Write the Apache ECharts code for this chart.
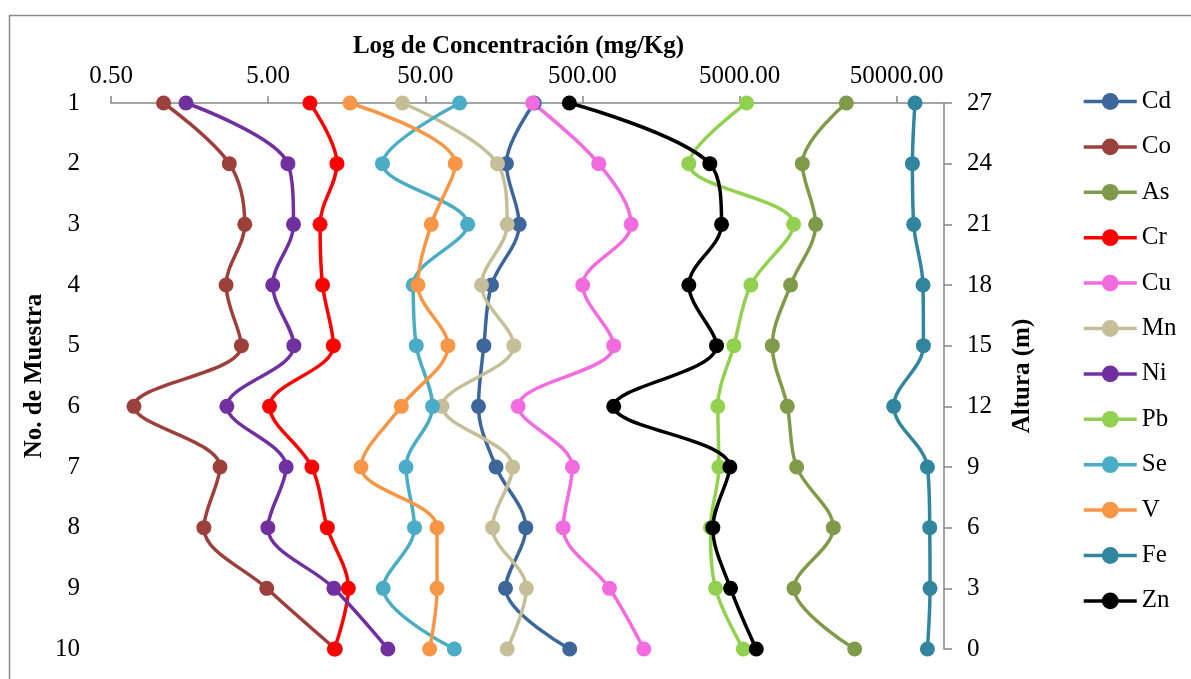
<!DOCTYPE html>
<html>
<head>
<meta charset="utf-8">
<script src="https://cdn.jsdelivr.net/npm/echarts@6/dist/echarts.min.js"></script>
<style>
  html, body { margin: 0; padding: 0; background: #ffffff; }
  #chart { width: 1191px; height: 679px; }
</style>
</head>
<body>
<div id="chart"></div>
<script>
// Sample numbers (top to bottom) and the concentration of each element, mg/Kg
const muestras = [1, 2, 3, 4, 5, 6, 7, 8, 9, 10];
const Cd = [247, 164, 198, 132, 118, 109, 141, 218, 162, 415];
const Co = [1.08, 2.83, 3.55, 2.70, 3.38, 0.70, 2.47, 1.95, 4.90, 13.4];
const As = [23900, 12540, 15250, 10560, 8080, 10070, 11540, 19760, 11090, 27010];
const Cr = [9.22, 13.7, 10.7, 11.1, 13.0, 5.10, 9.49, 11.9, 16.2, 13.2];
const Cu = [241, 635, 1021, 502, 791, 195, 432, 377, 743, 1229];
const Mn = [35.8, 144, 166, 114, 183, 63.9, 180, 134, 220, 166];
const Ni = [1.50, 6.68, 7.25, 5.35, 7.29, 2.73, 6.51, 4.98, 13.1, 28.9];
const Pb = [5541, 2378, 11040, 5901, 4600, 3637, 3691, 3268, 3517, 5279];
const Se = [82.7, 26.7, 93.0, 41.9, 43.8, 55.6, 37.7, 42.7, 27.0, 76.5];
const V  = [16.6, 77.6, 54.6, 44.9, 69.7, 35.2, 19.5, 59.4, 59.4, 53.3];
const Fe = [65400, 62950, 64150, 73550, 73950, 47850, 78450, 81150, 81500, 78450];
const Zn = [413, 3234, 3840, 2378, 3568, 791, 4337, 3380, 4382, 6390];

// Concentration tick labels on the log axis
const concTicks = [0.5, 5, 50, 500, 5000, 50000];

const elementos = [
  { name: 'Cd', values: Cd, color: '#3D679B' },
  { name: 'Co', values: Co, color: '#9C403C' },
  { name: 'As', values: As, color: '#7F9A48' },
  { name: 'Cr', values: Cr, color: '#FF0000' },
  { name: 'Cu', values: Cu, color: '#F26BDF' },
  { name: 'Mn', values: Mn, color: '#C6BE98' },
  { name: 'Ni', values: Ni, color: '#7030A0' },
  { name: 'Pb', values: Pb, color: '#92D050' },
  { name: 'Se', values: Se, color: '#4BACC6' },
  { name: 'V',  values: V,  color: '#F79646' },
  { name: 'Fe', values: Fe, color: '#31859C' },
  { name: 'Zn', values: Zn, color: '#000000' }
];

const FONT = '"Liberation Serif", "Times New Roman", serif';
const AXIS_GRAY = '#868686';

const chart = echarts.init(document.getElementById('chart'), null, { renderer: 'canvas' });

const series = elementos.map(el => ({
  name: el.name,
  type: 'line',
  xAxisIndex: 0,
  yAxisIndex: 0,
  smooth: 0.35,
  symbol: 'circle',
  symbolSize: 15,
  showSymbol: true,
  lineStyle: { width: 3.5, color: el.color },
  itemStyle: { color: el.color },
  emphasis: { disabled: true },
  data: el.values.map((v, i) => [v, muestras[i]])
}));

const option = {
  animation: false,
  backgroundColor: '#ffffff',
  textStyle: { fontFamily: FONT },
  graphic: [{
    type: 'rect',
    left: 7, top: 13,
    silent: true,
    shape: { width: 1400, height: 900 },
    style: { fill: 'none', stroke: '#8a8a8a', lineWidth: 1.5 }
  }],
  grid: { left: 111, right: 247, top: 103, bottom: 30, containLabel: false },
  legend: {
    orient: 'vertical',
    left: 1082,
    top: 89,
    itemWidth: 53,
    itemHeight: 21,
    itemGap: 20.4,
    padding: 0,
    lineStyle: { width: 3.5 },
    textStyle: { fontFamily: FONT, fontSize: 25, color: '#000' },
    data: elementos.map(e => e.name)
  },
  xAxis: [{
    type: 'log',
    logBase: 10,
    position: 'top',
    min: 0.5,
    max: 100000,
    name: 'Log de Concentración (mg/Kg)',
    nameLocation: 'middle',
    nameGap: 44,
    nameTextStyle: { fontFamily: FONT, fontSize: 25, fontWeight: 'bold', color: '#000', padding: [0, 18, 0, 0] },
    axisLine: { show: true, onZero: false, lineStyle: { color: AXIS_GRAY, width: 1.5 } },
    axisTick: { show: true, length: 7, lineStyle: { color: AXIS_GRAY, width: 1.5 }, customValues: concTicks },
    axisLabel: {
      fontFamily: FONT, fontSize: 25, color: '#000', margin: 14,
      customValues: concTicks,
      formatter: v => Number(v).toFixed(2)
    },
    splitLine: { show: false },
    minorTick: { show: false }
  }],
  yAxis: [{
    type: 'value',
    min: 1, max: 10, interval: 1,
    inverse: true,
    position: 'left',
    name: 'No. de Muestra',
    nameLocation: 'middle',
    nameGap: 64,
    nameMoveOverlap: false,
    nameRotate: 90,
    nameTextStyle: { fontFamily: FONT, fontSize: 25, fontWeight: 'bold', color: '#000' },
    axisLine: { show: false, onZero: false },
    axisTick: { show: false },
    axisLabel: { fontFamily: FONT, fontSize: 25, color: '#000', margin: 31 },
    splitLine: { show: false }
  }, {
    type: 'value',
    min: 0, max: 27, interval: 3,
    position: 'right',
    name: 'Altura (m)',
    nameLocation: 'middle',
    nameGap: 66,
    nameRotate: 90,
    nameTextStyle: { fontFamily: FONT, fontSize: 25, fontWeight: 'bold', color: '#000' },
    axisLine: { show: true, onZero: false, lineStyle: { color: AXIS_GRAY, width: 1.5 } },
    axisTick: { show: true, length: 8, lineStyle: { color: AXIS_GRAY, width: 1.5 } },
    axisLabel: { fontFamily: FONT, fontSize: 25, color: '#000', margin: 23 },
    splitLine: { show: false }
  }],
  series: series
};

chart.setOption(option);
</script>
</body>
</html>
